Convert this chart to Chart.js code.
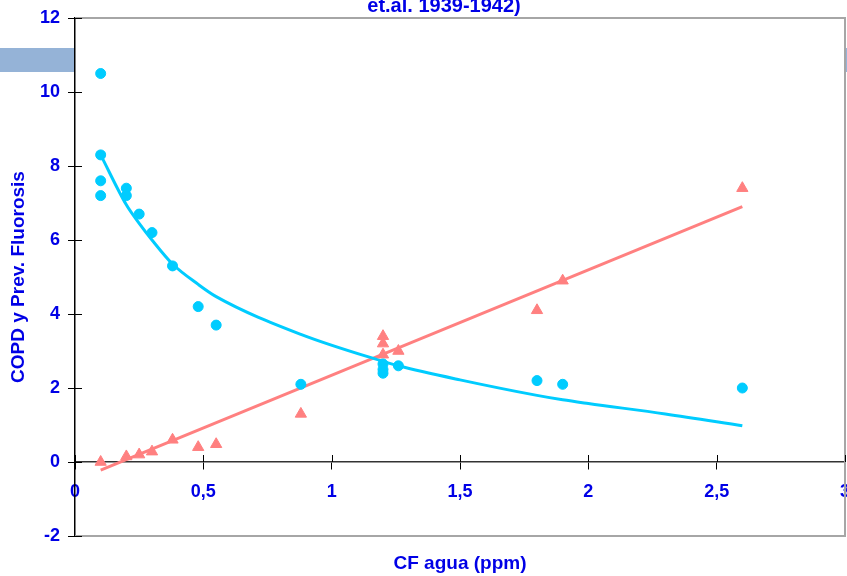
<!DOCTYPE html>
<html>
<head>
<meta charset="utf-8">
<script src="https://cdn.jsdelivr.net/npm/chart.js@4"></script>
<style>
  html, body { margin: 0; padding: 0; background: #fff; }
  #wrap { width: 847px; height: 576px; }
</style>
</head>
<body>
<div id="wrap"><canvas id="grafico" width="847" height="576"></canvas></div>
<script>
// datos
const copdX = [0.1, 0.1, 0.1, 0.1, 0.2, 0.2, 0.25, 0.3, 0.38, 0.48, 0.55, 0.88, 1.2, 1.2, 1.2, 1.26, 1.8, 1.9, 2.6];
const copdY = [10.5, 8.3, 7.6, 7.2, 7.4, 7.2, 6.7, 6.2, 5.3, 4.2, 3.7, 2.1, 2.65, 2.5, 2.4, 2.6, 2.2, 2.1, 2.0];
const fluorX = [0.1, 0.2, 0.25, 0.3, 0.38, 0.48, 0.55, 0.88, 1.2, 1.2, 1.2, 1.26, 1.8, 1.9, 2.6];
const fluorY = [0.0, 0.15, 0.2, 0.28, 0.6, 0.4, 0.48, 1.3, 3.4, 3.2, 2.9, 3.0, 4.1, 4.9, 7.4];
// curvas de tendencia
const copdTrendX = [0.1, 0.2, 0.25, 0.3, 0.38, 0.48, 0.55, 0.88, 1.2, 1.26, 1.5, 1.8, 1.9, 2.0, 2.3, 2.6];
const copdTrendY = [8.3, 6.95, 6.45, 6.0, 5.35, 4.8, 4.47, 3.45, 2.72, 2.6, 2.22, 1.8, 1.68, 1.58, 1.3, 0.98];
const fluorTrendX = [0.1, 2.6];
const fluorTrendY = [-0.22, 6.9];

const titulo = "et.al. 1939-1942)";
const tituloX = "CF agua (ppm)";
const tituloY = "COPD y Prev. Fluorosis";

const azul = '#0000e6';
const cian = '#00ccff';
const rosa = '#ff8080';
const fuente = "'Liberation Sans', Arial, sans-serif";

const pares = (xs, ys) => xs.map((x, i) => ({ x: x, y: ys[i] }));

const fondo = {
  id: 'fondo',
  beforeDraw(chart) {
    const ctx = chart.ctx;
    const a = chart.chartArea;
    ctx.save();
    ctx.fillStyle = '#ffffff';
    ctx.fillRect(0, 0, chart.width, chart.height);
    ctx.fillStyle = '#95b3d7';
    ctx.fillRect(0, 48, chart.width, 24);
    ctx.fillStyle = '#ffffff';
    ctx.fillRect(a.left, a.top, a.right - a.left, a.bottom - a.top);
    ctx.restore();
  },
  beforeDatasetsDraw(chart) {
    const ctx = chart.ctx;
    const a = chart.chartArea;
    const sx = chart.scales.x, sy = chart.scales.y;
    ctx.save();
    ctx.strokeStyle = '#a6a6a6';
    ctx.lineWidth = 2;
    ctx.beginPath();
    ctx.moveTo(a.left, a.top);
    ctx.lineTo(a.right, a.top);
    ctx.lineTo(a.right, a.bottom);
    ctx.lineTo(a.left, a.bottom);
    ctx.stroke();
    // marcas hacia dentro
    ctx.strokeStyle = '#000';
    ctx.lineWidth = 1;
    const y0 = sy.getPixelForValue(0);
    sx.ticks.forEach(t => {
      const px = Math.round(sx.getPixelForValue(t.value)) + 0.5;
      ctx.beginPath();
      ctx.moveTo(px, y0 - 7);
      ctx.lineTo(px, y0);
      ctx.stroke();
    });
    sy.ticks.forEach(t => {
      const py = Math.round(sy.getPixelForValue(t.value)) + 0.5;
      ctx.beginPath();
      ctx.moveTo(a.left, py);
      ctx.lineTo(a.left + 7, py);
      ctx.stroke();
    });
    ctx.restore();
  },
  afterDraw(chart) {
    const ctx = chart.ctx;
    const a = chart.chartArea;
    ctx.save();
    ctx.fillStyle = azul;
    ctx.textAlign = 'center';
    ctx.textBaseline = 'alphabetic';
    ctx.font = "bold 20px " + fuente;
    ctx.fillText(titulo, 444, 12);
    ctx.font = "bold 19px " + fuente;
    ctx.fillText(tituloX, 460, 569);
    ctx.translate(19, (a.top + a.bottom) / 2);
    ctx.rotate(-Math.PI / 2);
    ctx.textBaseline = 'middle';
    ctx.fillText(tituloY, 0, 0);
    ctx.restore();
  }
};

new Chart(document.getElementById('grafico'), {
  type: 'scatter',
  data: {
    datasets: [
      {
        label: 'COPD',
        data: pares(copdX, copdY),
        backgroundColor: cian,
        borderColor: cian,
        pointRadius: 5,
        pointStyle: 'circle'
      },
      {
        label: 'Fluorosis',
        data: pares(fluorX, fluorY),
        backgroundColor: rosa,
        borderColor: rosa,
        pointRadius: 6.5,
        pointStyle: 'triangle'
      },
      {
        label: 'Tendencia COPD',
        data: pares(copdTrendX, copdTrendY),
        showLine: true,
        borderColor: cian,
        borderWidth: 3,
        pointRadius: 0,
        cubicInterpolationMode: 'monotone'
      },
      {
        label: 'Tendencia Fluorosis',
        data: pares(fluorTrendX, fluorTrendY),
        showLine: true,
        borderColor: rosa,
        borderWidth: 3,
        pointRadius: 0
      }
    ]
  },
  options: {
    responsive: false,
    animation: false,
    layout: { autoPadding: false, padding: { top: 18, right: 2, bottom: 40, left: 0 } },
    plugins: {
      legend: { display: false },
      tooltip: { enabled: false }
    },
    scales: {
      x: {
        type: 'linear',
        position: { y: 0 },
        min: 0,
        max: 3,
        afterFit: s => { s.paddingLeft = 0; s.paddingRight = 0; },
        grid: { drawOnChartArea: false, drawTicks: true, tickLength: 7, color: '#000' },
        border: { display: true, color: '#333', width: 1.5 },
        ticks: {
          stepSize: 0.5,
          padding: 12,
          color: azul,
          font: { family: fuente, size: 18, weight: 'bold' },
          callback: v => String(v).replace('.', ',')
        }
      },
      y: {
        min: -2,
        max: 12,
        afterFit: s => { s.width = 75; s.paddingTop = 0; s.paddingBottom = 0; },
        grid: { drawOnChartArea: false, drawTicks: true, tickLength: 7, color: '#000' },
        border: { display: true, color: '#000', width: 1.5 },
        ticks: {
          stepSize: 2,
          padding: 8,
          color: azul,
          font: { family: fuente, size: 18, weight: 'bold' }
        }
      }
    }
  },
  plugins: [fondo]
});
</script>
</body>
</html>
